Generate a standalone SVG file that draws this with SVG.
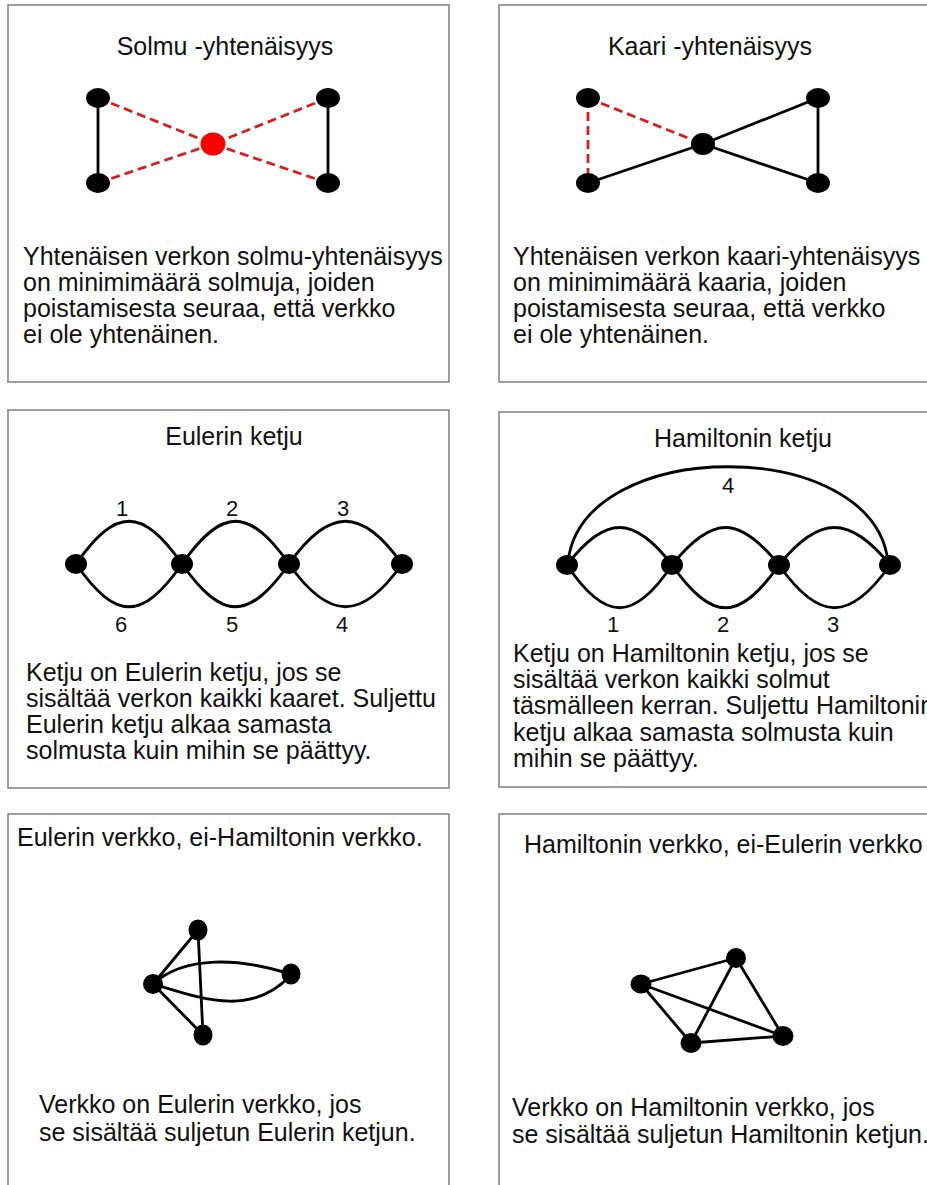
<svg xmlns="http://www.w3.org/2000/svg" width="927" height="1185" viewBox="0 0 927 1185">
  <style>
    .frame { fill: #ffffff; stroke: #7f7f7f; stroke-width: 1.5; }
    .txt { font-family: "Liberation Sans", Arial, sans-serif; font-size: 25px; fill: #111111; }
    .mid { text-anchor: middle; }
    .num { font-family: "Liberation Sans", Arial, sans-serif; font-size: 22px; fill: #111111; text-anchor: middle; }
    .edge { fill: none; stroke: #000000; stroke-width: 2.8; stroke-linecap: round; }
    .cut { fill: none; stroke: #dd1c1c; stroke-width: 2.8; stroke-dasharray: 9 5; }
    .node { fill: #000000; }
    .hot { fill: #ff0000; }
  </style>

  <rect width="927" height="1185" fill="#ffffff"/>

  <!-- panel frames -->
  <g id="frames">
    <rect class="frame" x="8" y="5" width="441" height="377"/>
    <rect class="frame" x="499" y="5" width="440" height="377"/>
    <rect class="frame" x="8" y="410" width="441" height="378"/>
    <rect class="frame" x="499" y="412" width="440" height="375"/>
    <rect class="frame" x="8" y="814" width="441" height="390"/>
    <rect class="frame" x="499" y="814" width="440" height="390"/>
  </g>

  <!-- edges of every graph -->
  <g id="connectors">
    <!-- vertex connectivity -->
    <line class="edge" x1="98" y1="98" x2="98" y2="183"/>
    <line class="edge" x1="328" y1="98" x2="328" y2="183"/>
    <line class="cut" x1="98" y1="98" x2="213" y2="144"/>
    <line class="cut" x1="98" y1="183" x2="213" y2="144"/>
    <line class="cut" x1="328" y1="98" x2="213" y2="144"/>
    <line class="cut" x1="328" y1="183" x2="213" y2="144"/>

    <!-- edge connectivity -->
    <line class="cut" x1="588" y1="98" x2="588" y2="183"/>
    <line class="cut" x1="588" y1="98" x2="703" y2="144"/>
    <line class="edge" x1="588" y1="183" x2="703" y2="144"/>
    <line class="edge" x1="703" y1="144" x2="818" y2="98"/>
    <line class="edge" x1="703" y1="144" x2="818" y2="183"/>
    <line class="edge" x1="818" y1="98" x2="818" y2="183"/>

    <!-- Euler trail: three lenses -->
    <path class="edge" d="M76 564 C116 507 142 507 182 564 C222 507 249 507 289 564 C329 507 362 507 402 564"/>
    <path class="edge" d="M76 564 C116 621 142 621 182 564 C222 621 249 621 289 564 C329 621 362 621 402 564"/>

    <!-- Hamilton path: three lenses plus closing arc -->
    <path class="edge" d="M567 565 C605 515 634 515 672 565 C712 515 739 515 779 565 C819 515 850 515 890 565"/>
    <path class="edge" d="M567 565 C605 622 634 622 672 565 C712 622 739 622 779 565 C819 622 850 622 890 565"/>
    <path class="edge" d="M568 562 C582 435 874 435 888 562"/>

    <!-- Eulerian, non-Hamiltonian graph -->
    <line class="edge" x1="153" y1="984" x2="198" y2="930"/>
    <line class="edge" x1="198" y1="930" x2="203" y2="1035"/>
    <line class="edge" x1="153" y1="984" x2="203" y2="1035"/>
    <path class="edge" d="M153 984 C185 955 240 958 290 974"/>
    <path class="edge" d="M153 984 C200 998 250 1018 290 976"/>

    <!-- Hamiltonian, non-Eulerian graph (K4) -->
    <line class="edge" x1="641" y1="984" x2="736" y2="958"/>
    <line class="edge" x1="641" y1="984" x2="691" y2="1043"/>
    <line class="edge" x1="641" y1="984" x2="783" y2="1036"/>
    <line class="edge" x1="736" y1="958" x2="691" y2="1043"/>
    <line class="edge" x1="736" y1="958" x2="783" y2="1036"/>
    <line class="edge" x1="691" y1="1043" x2="783" y2="1036"/>
  </g>

  <!-- Panel: Solmu -yhtenäisyys -->
  <g id="vertex-connectivity">
    <text class="txt mid" x="225" y="55">Solmu -yhtenäisyys</text>
    <ellipse id="v1a" class="node" cx="98" cy="98" rx="12" ry="10"/>
    <ellipse id="v1b" class="node" cx="98" cy="183" rx="12" ry="10"/>
    <ellipse id="v1c" class="node" cx="328" cy="98" rx="12" ry="10"/>
    <ellipse id="v1d" class="node" cx="328" cy="183" rx="12" ry="10"/>
    <ellipse id="v1cut" class="hot" cx="213" cy="144" rx="12.5" ry="11.5"/>
    <text class="txt" x="23" y="265">Yhtenäisen verkon solmu-yhtenäisyys</text>
    <text class="txt" x="23" y="291">on minimimäärä solmuja, joiden</text>
    <text class="txt" x="23" y="317">poistamisesta seuraa, että verkko</text>
    <text class="txt" x="23" y="343">ei ole yhtenäinen.</text>
  </g>

  <!-- Panel: Kaari -yhtenäisyys -->
  <g id="edge-connectivity">
    <text class="txt mid" x="710" y="55">Kaari -yhtenäisyys</text>
    <ellipse id="v2a" class="node" cx="588" cy="98" rx="12" ry="10"/>
    <ellipse id="v2b" class="node" cx="588" cy="183" rx="12" ry="10"/>
    <ellipse id="v2c" class="node" cx="703" cy="144" rx="12" ry="11"/>
    <ellipse id="v2d" class="node" cx="818" cy="98" rx="12" ry="10"/>
    <ellipse id="v2e" class="node" cx="818" cy="183" rx="12" ry="10"/>
    <text class="txt" x="513" y="265">Yhtenäisen verkon kaari-yhtenäisyys</text>
    <text class="txt" x="513" y="291">on minimimäärä kaaria, joiden</text>
    <text class="txt" x="513" y="317">poistamisesta seuraa, että verkko</text>
    <text class="txt" x="513" y="343">ei ole yhtenäinen.</text>
  </g>

  <!-- Panel: Eulerin ketju -->
  <g id="euler-trail">
    <text class="txt mid" x="234" y="445">Eulerin ketju</text>
    <ellipse id="v3a" class="node" cx="76" cy="564" rx="11" ry="10"/>
    <ellipse id="v3b" class="node" cx="182" cy="564" rx="11" ry="10"/>
    <ellipse id="v3c" class="node" cx="289" cy="564" rx="11" ry="10"/>
    <ellipse id="v3d" class="node" cx="402" cy="564" rx="11" ry="10"/>
    <text class="num" x="122" y="516">1</text>
    <text class="num" x="232" y="516">2</text>
    <text class="num" x="343" y="516">3</text>
    <text class="num" x="121" y="632">6</text>
    <text class="num" x="232" y="632">5</text>
    <text class="num" x="342" y="632">4</text>
    <text class="txt" x="26" y="681">Ketju on Eulerin ketju, jos se</text>
    <text class="txt" x="26" y="707">sisältää verkon kaikki kaaret. Suljettu</text>
    <text class="txt" x="26" y="733">Eulerin ketju alkaa samasta</text>
    <text class="txt" x="26" y="759">solmusta kuin mihin se päättyy.</text>
  </g>

  <!-- Panel: Hamiltonin ketju -->
  <g id="hamilton-path">
    <text class="txt mid" x="743" y="447">Hamiltonin ketju</text>
    <ellipse id="v4a" class="node" cx="567" cy="565" rx="11" ry="10"/>
    <ellipse id="v4b" class="node" cx="672" cy="565" rx="11" ry="10"/>
    <ellipse id="v4c" class="node" cx="779" cy="565" rx="11" ry="10"/>
    <ellipse id="v4d" class="node" cx="890" cy="565" rx="11" ry="10"/>
    <text class="num" x="728" y="493">4</text>
    <text class="num" x="613" y="632">1</text>
    <text class="num" x="723" y="632">2</text>
    <text class="num" x="833" y="632">3</text>
    <text class="txt" x="513" y="662">Ketju on Hamiltonin ketju, jos se</text>
    <text class="txt" x="513" y="688">sisältää verkon kaikki solmut</text>
    <text class="txt" x="513" y="714">täsmälleen kerran. Suljettu Hamiltonin</text>
    <text class="txt" x="513" y="741">ketju alkaa samasta solmusta kuin</text>
    <text class="txt" x="513" y="767">mihin se päättyy.</text>
  </g>

  <!-- Panel: Eulerin verkko, ei-Hamiltonin verkko -->
  <g id="euler-graph">
    <text class="txt" x="17" y="846">Eulerin verkko, ei-Hamiltonin verkko.</text>
    <ellipse id="v5a" class="node" cx="198" cy="930" rx="9.5" ry="10.5"/>
    <ellipse id="v5b" class="node" cx="153" cy="984" rx="10" ry="10"/>
    <ellipse id="v5c" class="node" cx="291" cy="974" rx="9.5" ry="10.5"/>
    <ellipse id="v5d" class="node" cx="203" cy="1035" rx="9.5" ry="10.5"/>
    <text class="txt" x="39" y="1113">Verkko on Eulerin verkko, jos</text>
    <text class="txt" x="39" y="1141">se sisältää suljetun Eulerin ketjun.</text>
  </g>

  <!-- Panel: Hamiltonin verkko, ei-Eulerin verkko -->
  <g id="hamilton-graph">
    <text class="txt" x="524" y="853">Hamiltonin verkko, ei-Eulerin verkko</text>
    <ellipse id="v6a" class="node" cx="641" cy="984" rx="10.5" ry="9.5"/>
    <ellipse id="v6b" class="node" cx="736" cy="958" rx="10" ry="10"/>
    <ellipse id="v6c" class="node" cx="691" cy="1043" rx="10.5" ry="10"/>
    <ellipse id="v6d" class="node" cx="783" cy="1036" rx="10.5" ry="10"/>
    <text class="txt" x="512" y="1116">Verkko on Hamiltonin verkko, jos</text>
    <text class="txt" x="512" y="1143">se sisältää suljetun Hamiltonin ketjun.</text>
  </g>
</svg>
